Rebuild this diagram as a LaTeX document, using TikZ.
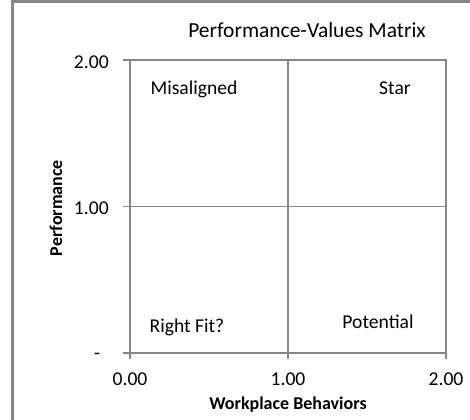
\documentclass[tikz,border=0pt]{standalone}
\usepackage{fontspec}
\setmainfont{Carlito}
\usepackage{tikz}

\definecolor{chartgray}{HTML}{868686}

\begin{document}
\begin{tikzpicture}[
        x=0.75pt,
        y=-0.75pt,
        line cap=rect,
        gridline/.style={draw=chartgray, line width=1.1pt},
        ticklabel/.style={font=\fontsize{14.7}{17}\selectfont, inner sep=0pt},
        quadlabel/.style={font=\fontsize{14.7}{17}\selectfont, inner sep=0pt},
        axistitle/.style={font=\fontsize{13.5}{16}\selectfont\bfseries, inner sep=0pt}
    ]

    \useasboundingbox (0,0) rectangle (470,419);

    % chart frame
    \draw[draw=chartgray, line width=1.6pt] (12.5,419) -- (12.5,1.5) -- (470,1.5);

    % grid with ticks
    \foreach \gx in {130,288,446} {
        \draw[gridline] (\gx,60) -- (\gx,358);
    }
    \foreach \gy in {60,206.5,353} {
        \draw[gridline] (124,\gy) -- (446,\gy);
    }

    \foreach \gx/\lab [count=\i] in {130/0.00, 288/1.00, 446/2.00} {
        \node[ticklabel] (xtick\i) at (\gx,379) {\lab};
    }
    \node[ticklabel, anchor=east] (ytick2) at (109,62.5) {2.00};
    \node[ticklabel, anchor=east] (ytick1) at (109,208) {1.00};
    \node[ticklabel] (ytick0) at (97,356) {-};

    \node[font=\fontsize{16.1}{19}\selectfont, inner sep=0pt] (title) at (307,30) {Performance-Values Matrix};
    \node[axistitle] (xtitle) at (288,405) {Workplace Behaviors};
    \node[axistitle, rotate=90] (ytitle) at (56,208) {Performance};

    \node[quadlabel] (misaligned) at (194,89) {Misaligned};
    \node[quadlabel] (star) at (395,88) {Star};
    \node[quadlabel] (rightfit) at (187,327.5) {Right Fit?};
    \node[quadlabel] (potential) at (378,321.5) {Potential};

\end{tikzpicture}
\end{document}
